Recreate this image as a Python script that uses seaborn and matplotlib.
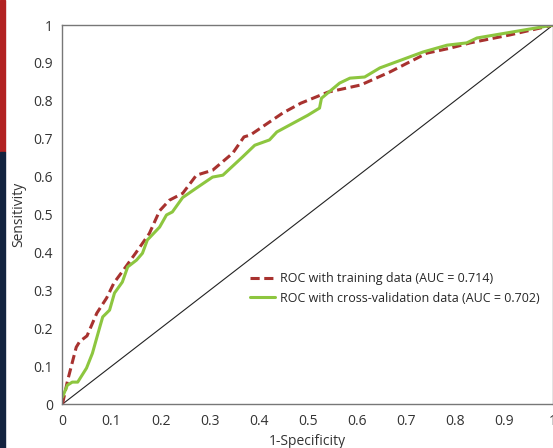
import pandas as pd
import seaborn as sns
import matplotlib.pyplot as plt
from matplotlib.patches import Rectangle

# ROC points
train_fpr = [0, 0.01, 0.018, 0.028, 0.035, 0.05, 0.07, 0.09, 0.105, 0.125, 0.15, 0.177,
             0.198, 0.218, 0.245, 0.273, 0.306, 0.347, 0.37, 0.383, 0.449, 0.486, 0.541,
             0.608, 0.667, 0.743, 0.79, 0.831, 0.912, 1.0]
train_tpr = [0, 0.06, 0.1, 0.15, 0.165, 0.18, 0.24, 0.28, 0.32, 0.355, 0.40, 0.45,
             0.51, 0.538, 0.556, 0.604, 0.617, 0.662, 0.705, 0.71, 0.768, 0.794, 0.823,
             0.842, 0.876, 0.926, 0.939, 0.953, 0.974, 1.0]

cv_fpr = [0, 0, 0.01, 0.02, 0.031, 0.049, 0.061, 0.076, 0.082, 0.096, 0.106, 0.122,
          0.133, 0.151, 0.163, 0.173, 0.198, 0.212, 0.224, 0.245, 0.273, 0.306, 0.327,
          0.367, 0.392, 0.422, 0.437, 0.5, 0.524, 0.528, 0.565, 0.586, 0.616, 0.647,
          0.735, 0.784, 0.824, 0.845, 1.0]
cv_tpr = [0, 0.037, 0.05, 0.058, 0.058, 0.095, 0.134, 0.203, 0.23, 0.248, 0.293, 0.322,
          0.362, 0.38, 0.398, 0.433, 0.467, 0.499, 0.507, 0.545, 0.570, 0.599, 0.604,
          0.652, 0.683, 0.697, 0.718, 0.762, 0.781, 0.807, 0.847, 0.86, 0.863, 0.887,
          0.929, 0.947, 0.953, 0.966, 1.0]

labels = ['ROC with training data (AUC = 0.714)',
          'ROC with cross-validation data (AUC = 0.702)']

sns.set_style('white')
plt.rcParams['font.family'] = ['Open Sans', 'DejaVu Sans']

fig = plt.figure(figsize=(5.53, 4.48), dpi=100)
ax = fig.add_axes([0.113, 0.098, 0.887, 0.846])

# chance line
ax.plot([0, 1], [0, 1], color='#222222', lw=0.8)

sns.lineplot(x=train_fpr, y=train_tpr, ax=ax, color='#A8322F', lw=2.2,
             linestyle=(0, (3, 1.5)), sort=False, label=labels[0])
sns.lineplot(x=cv_fpr, y=cv_tpr, ax=ax, color='#8DC63F', lw=2.2,
             sort=False, label=labels[1])

ax.set_xlim(0, 1)
ax.set_ylim(0, 1)
ax.set_xticks([i / 10 for i in range(11)])
ax.set_yticks([i / 10 for i in range(11)])
ax.set_xticklabels(['0'] + [f'{i/10:.1f}' for i in range(1, 10)] + ['1'])
ax.set_yticklabels(['0'] + [f'{i/10:.1f}' for i in range(1, 10)] + ['1'])
ax.tick_params(length=0, labelsize=10, colors='#333333', pad=7)
for s in ax.spines.values():
    s.set_color('#777777')
    s.set_linewidth(1)

ax.set_xlabel('1-Specificity', fontsize=10, color='#333333', labelpad=4)
ax.set_ylabel('Sensitivity', fontsize=10, color='#333333', labelpad=5)

ax.legend(loc='center left', bbox_to_anchor=(0.36, 0.305), frameon=False,
          fontsize=9, handlelength=2.0, handletextpad=0.4, labelspacing=0.5)

# screenshot edge strip
fig.patches.append(Rectangle((0, 0.66), 0.009, 0.34, transform=fig.transFigure,
                             color='#B22222', zorder=0))
fig.patches.append(Rectangle((0, 0), 0.009, 0.66, transform=fig.transFigure,
                             color='#13233F', zorder=0))

fig.savefig('out.png', dpi=100)
